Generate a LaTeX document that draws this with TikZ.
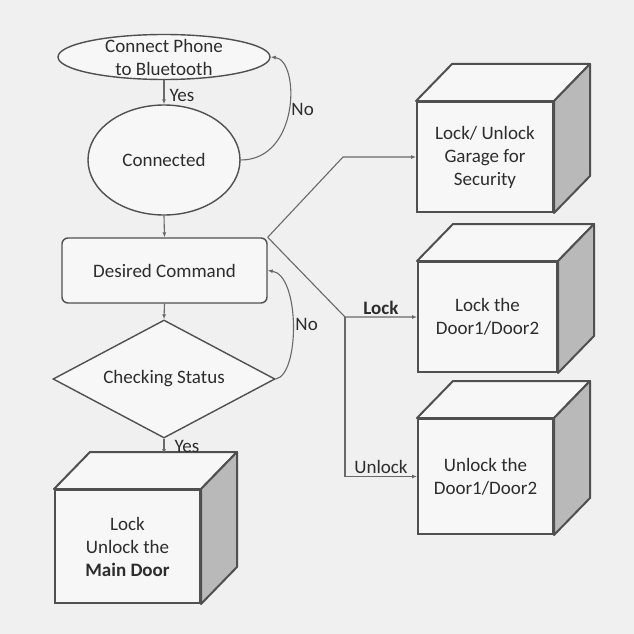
\documentclass[tikz,border=0pt]{standalone}
\usepackage{fontspec}
\setmainfont{Carlito}
\usetikzlibrary{arrows.meta,shapes.geometric}
\definecolor{bgray}{RGB}{240,240,240}
\definecolor{edge}{RGB}{80,80,80}
\definecolor{wire}{RGB}{105,105,105}
\definecolor{face}{RGB}{247,247,247}
\definecolor{side}{RGB}{185,185,185}
\definecolor{ink}{RGB}{45,45,45}

\begin{document}
\begin{tikzpicture}[x=1pt, y=-1pt,
  every node/.style={font=\fontsize{19}{23}\selectfont, text=ink},
  flow/.style={draw=edge, line width=1.4pt, fill=face, inner sep=0pt, align=center},
  front/.style={rectangle, draw=edge, line width=2pt, fill=face, align=center, inner sep=0pt},
  cubeface/.style={draw=edge, line width=2pt, line join=round},
  arr/.style={-{Latex[length=5pt,width=4pt]}, draw=wire, line width=1.1pt},
  lbl/.style={inner sep=2pt}]
\fill[bgray] (0,0) rectangle (634,634);
\useasboundingbox (0,0) rectangle (634,634);
% left column
\node[flow, ellipse, minimum width=212pt, minimum height=45pt, inner ysep=-12pt] (phone) at (164,57) {Connect Phone\\to Bluetooth};
\node[flow, ellipse, minimum width=152pt, minimum height=110pt] (conn) at (164,160) {Connected};
\node[flow, rectangle, rounded corners=6pt, minimum width=205pt, minimum height=65pt] (desired) at (164.5,270.5) {Desired Command};
\node[flow, diamond, aspect=1.9, minimum width=222pt, minimum height=118pt] (check) at (164,379) {Checking Status};
% cubes
\node[front, minimum width=145pt, minimum height=113pt] (main) at (127.5,546.5) {Lock\\Unlock the\\\textbf{Main Door}};
\node[front, minimum width=136pt, minimum height=110pt] (garage) at (485,157) {Lock/ Unlock\\Garage for\\Security};
\node[front, minimum width=139pt, minimum height=110pt] (lockd) at (487.5,317) {Lock the\\Door1/Door2};
\node[front, minimum width=135pt, minimum height=115pt] (unlockd) at (485.5,476.5) {Unlock the\\Door1/Door2};
\foreach \c in {main,garage,lockd,unlockd}{
  \filldraw[cubeface, fill=face] (\c.north west) -- ++(36,-37) -- ([shift={(36,-37)}]\c.north east) -- (\c.north east) -- cycle;
  \filldraw[cubeface, fill=side] (\c.north east) -- ++(36,-37) -- ([shift={(36,-37)}]\c.south east) -- (\c.south east) -- cycle;
}
\coordinate (maintop) at (164,454);
\coordinate (fork1) at (343,157);
\coordinate (fork2) at (345,317);
% connectors
\draw[arr] (phone.south) -- node[lbl, right, pos=0.65, xshift=3pt] {Yes} (conn.north);
\draw[arr] (conn.east) .. controls (300,160) and (300,60) .. node[lbl, right] {No} (phone.east);
\draw[arr] (conn.south) -- (desired.north);
\draw[arr] (desired.south) -- (check.north);
\draw[arr] (check.east) .. controls (300,375) and (300,275) .. node[lbl, right] {No} (desired.east);
\draw[arr] (check.south) -- node[lbl, right, xshift=8pt] {Yes} (maintop);
\draw[arr] (desired.north east) -- (fork1) -- (garage.west);
\draw[arr] (desired.north east) -- (fork2) -- node[lbl, above] {\textbf{Lock}} (lockd.west);
\draw[arr] (fork2) |- node[lbl, above, pos=0.75] {Unlock} (unlockd.west);
\end{tikzpicture}
\end{document}
